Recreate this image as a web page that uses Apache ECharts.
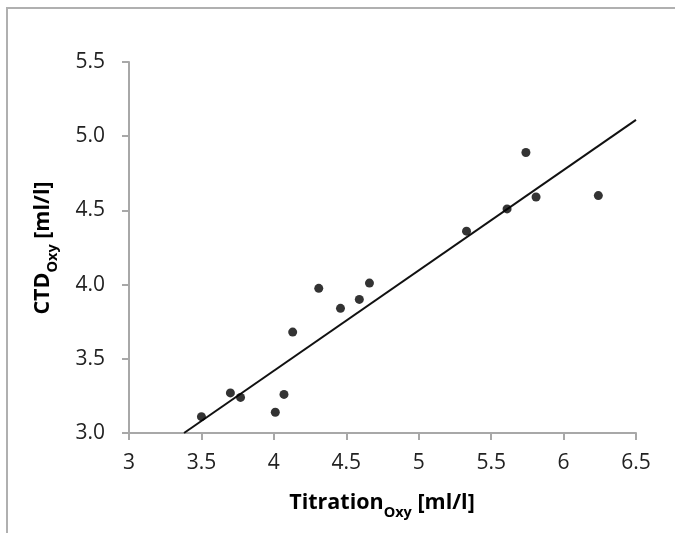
<!DOCTYPE html>
<html>
<head>
<meta charset="utf-8">
<script src="https://cdn.jsdelivr.net/npm/echarts@6/dist/echarts.min.js"></script>
<style>
html, body { margin: 0; padding: 0; background: #fff; }
#main { width: 675px; height: 533px; }
</style>
</head>
<body>
<div id="main"></div>
<script>
// titration vs CTD oxygen
var titration = [3.50, 3.70, 3.77, 4.01, 4.07, 4.13, 4.31, 4.46, 4.59, 4.66, 5.33, 5.61, 5.74, 5.81, 6.24];
var ctd = [3.11, 3.27, 3.24, 3.14, 3.26, 3.68, 3.975, 3.84, 3.90, 4.01, 4.36, 4.51, 4.89, 4.59, 4.60];
// linear fit end points
var trendX = [3.38, 6.5];
var trendY = [3.0, 5.11];

var chart = echarts.init(document.getElementById('main'));

var points = titration.map(function (x, i) { return [x, ctd[i]]; });
var trend = trendX.map(function (x, i) { return [x, trendY[i]]; });

var axisGray = '#a8a8a8';
var labelFont = 'Open Sans';

var titleRich = {
  m: { fontFamily: labelFont, fontWeight: 'bold', fontSize: 21.5, color: '#1a1a1a', verticalAlign: 'top', lineHeight: 26 },
  s: { fontFamily: labelFont, fontWeight: 'bold', fontSize: 14.5, color: '#1a1a1a', verticalAlign: 'top', padding: [13, 0, 0, 0] }
};

var option = {
  animation: false,
  backgroundColor: '#fff',
  grid: { left: 129, right: 39, top: 62, bottom: 100 },
  xAxis: {
    type: 'value',
    min: 3, max: 6.5, interval: 0.5,
    axisLine: { show: true, lineStyle: { color: axisGray, width: 2 } },
    axisTick: { show: true, length: 7, lineStyle: { color: axisGray, width: 2 } },
    splitLine: { show: false },
    axisLabel: {
      margin: 20, fontFamily: labelFont, fontSize: 21, color: '#222',
      formatter: function (v) { return String(v); }
    }
  },
  yAxis: {
    type: 'value',
    min: 3, max: 5.5, interval: 0.5,
    axisLine: { show: true, lineStyle: { color: axisGray, width: 2 } },
    axisTick: { show: true, length: 7, lineStyle: { color: axisGray, width: 2 } },
    splitLine: { show: false },
    axisLabel: {
      margin: 24, fontFamily: labelFont, fontSize: 21, color: '#222',
      formatter: function (v) { return v.toFixed(1); }
    }
  },
  graphic: [
    {
      type: 'rect', silent: true, z: -1,
      shape: { x: 7, y: 8, width: 1000, height: 1000 },
      style: { fill: 'none', stroke: '#b0b0b0', lineWidth: 2 }
    },
    {
      type: 'text', x: 382, y: 506,
      style: {
        text: '{m|Titration}{s|Oxy}{m| [ml/l]}',
        rich: titleRich, align: 'center', verticalAlign: 'middle'
      }
    },
    {
      type: 'text', x: 46, y: 248, rotation: Math.PI / 2,
      style: {
        text: '{m|CTD}{s|Oxy}{m| [ml/l]}',
        rich: titleRich, align: 'center', verticalAlign: 'middle'
      }
    }
  ],
  series: [
    {
      type: 'line',
      data: trend,
      symbol: 'none',
      lineStyle: { color: '#111', width: 2 },
      z: 2
    },
    {
      type: 'scatter',
      data: points,
      symbol: 'circle',
      symbolSize: 9,
      itemStyle: { color: '#000' },
      z: 3
    }
  ]
};

chart.setOption(option);
</script>
</body>
</html>
